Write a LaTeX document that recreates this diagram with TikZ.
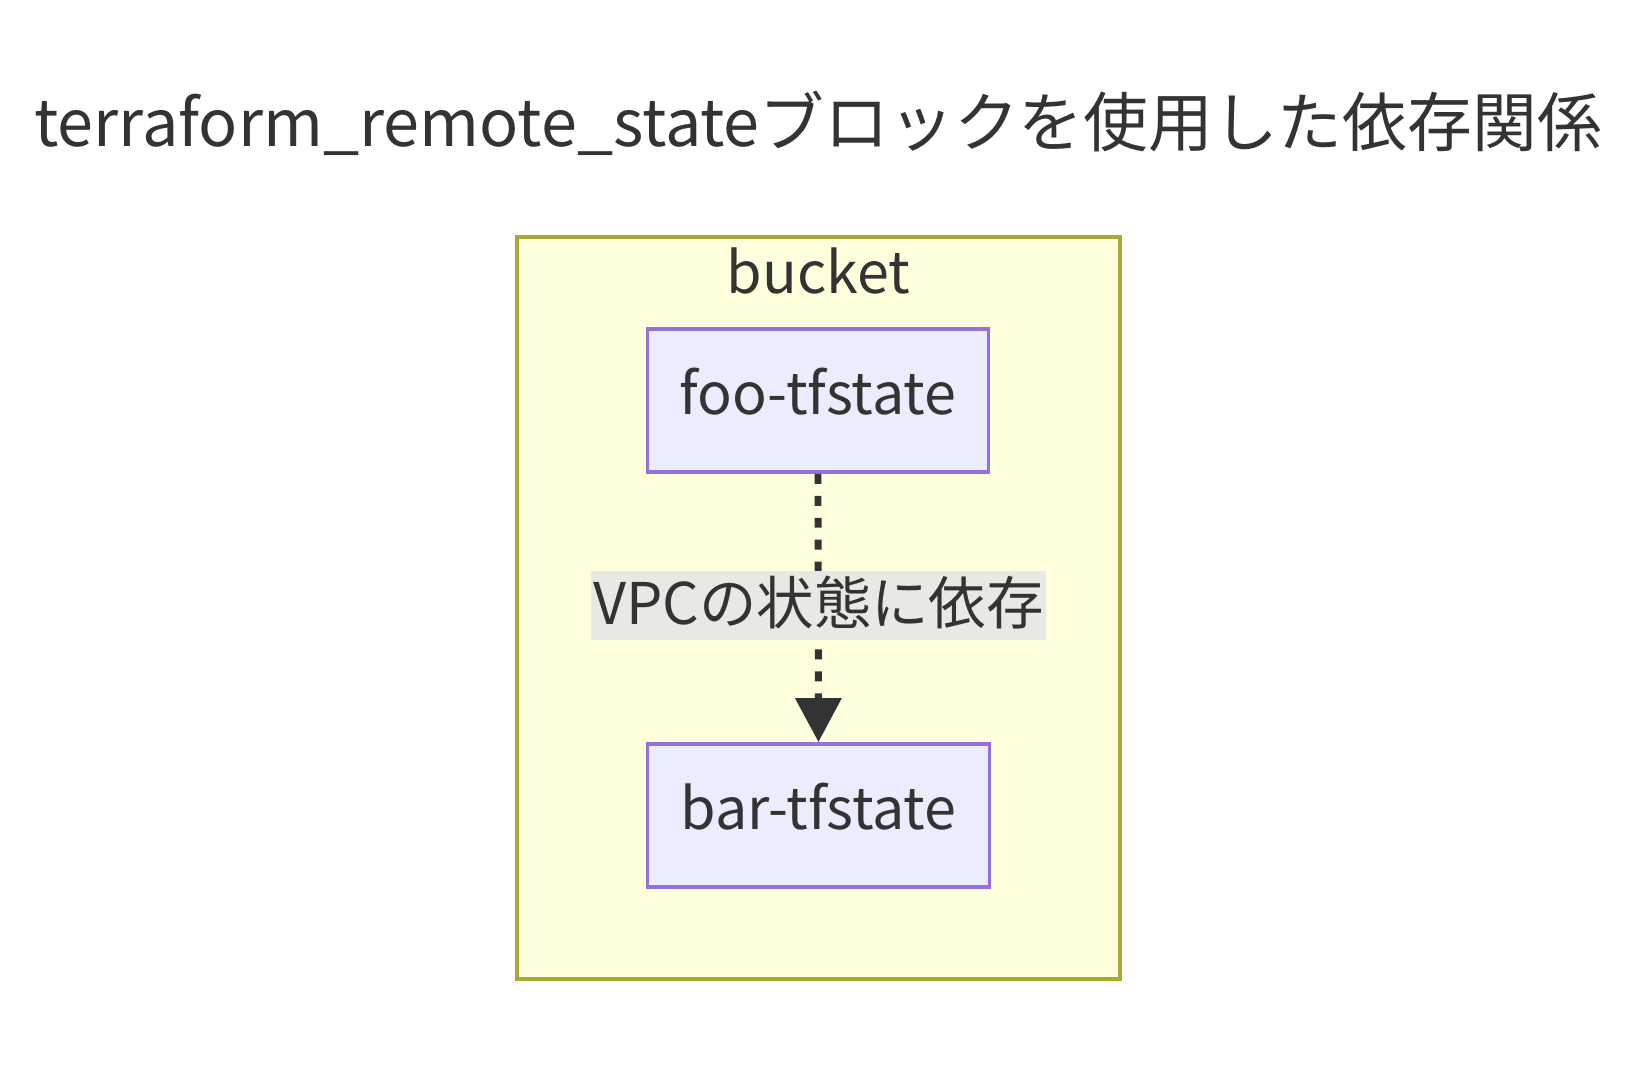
\documentclass[tikz,border=0pt]{standalone}
\usepackage{fontspec}
\setmainfont{Noto Sans CJK JP}
\usetikzlibrary{arrows.meta}
\definecolor{txt}{HTML}{333333}
\definecolor{clfill}{HTML}{FFFFDE}
\definecolor{cldraw}{HTML}{AAAA33}
\definecolor{ndfill}{HTML}{ECECFF}
\definecolor{nddraw}{HTML}{9370DB}
\definecolor{lblbg}{HTML}{E8E8E4}
\tikzset{
  cluster/.style={draw=cldraw, fill=clfill, line width=3.3bp, minimum width=577bp, minimum height=710bp, inner sep=0pt},
  statebox/.style={draw=nddraw, fill=ndfill, line width=3.3bp, minimum height=137bp, inner sep=0pt, text=txt,
    font=\fontsize{55bp}{62bp}\selectfont, text height=41bp, text depth=14bp},
  edgelbl/.style={fill=lblbg, text=txt, inner sep=0pt, minimum width=435bp, minimum height=66bp,
    font=\fontsize{55bp}{62bp}\selectfont, text height=45bp, text depth=10bp},
  edgeline/.style={draw=txt, line width=6.6bp, dash pattern=on 9.5bp off 11.5bp,
    -{Triangle[length=42bp,width=43bp]}},
}
\begin{document}
\begin{tikzpicture}[x=1bp,y=-1bp]
\useasboundingbox (0,0) rectangle (1568,1029);
\node[anchor=base, text=txt, font=\fontsize{62bp}{70bp}\selectfont] (title) at (783,140) {terraform\_remote\_stateブロックを使用した依存関係};
\node[cluster] (bucket) at (783.5,582) {};
\node[anchor=base, text=txt, font=\fontsize{55bp}{62bp}\selectfont] (bucketlbl) at (783.5,281) {bucket};
\node[statebox, minimum width=326bp] (foo) at (783,383.5) {foo-tfstate};
\node[statebox, minimum width=327bp] (bar) at (783.5,780.5) {bar-tfstate};
\draw[edgeline] (foo.south) -- (bar.north);
\node[edgelbl] (lbl) at (783.5,580) {VPCの状態に依存};
\end{tikzpicture}
\end{document}
